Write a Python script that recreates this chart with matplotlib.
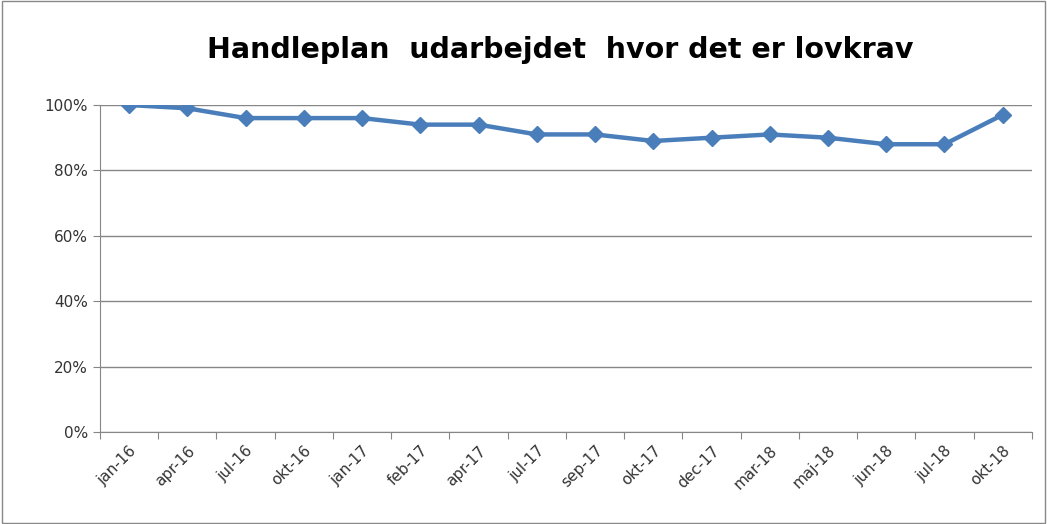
import matplotlib.pyplot as plt
from matplotlib.patches import Rectangle

maaneder = ["jan-16", "apr-16", "jul-16", "okt-16", "jan-17", "feb-17", "apr-17", "jul-17",
            "sep-17", "okt-17", "dec-17", "mar-18", "maj-18", "jun-18", "jul-18", "okt-18"]
andel = [100, 99, 96, 96, 96, 94, 94, 91, 91, 89, 90, 91, 90, 88, 88, 97]

fig = plt.figure(figsize=(10.47, 5.24), dpi=100)
ax = fig.add_axes([0.0955, 0.1756, 0.89, 0.624])

x = range(len(maaneder))
ax.plot(x, andel, color="#4a7ebb", linewidth=3.2, marker="D", markersize=8, zorder=3)

ax.set_xlim(-0.5, len(maaneder) - 0.5)
ax.set_ylim(0, 100)
ax.set_yticks(range(0, 101, 20))
ax.set_yticklabels([f"{v}%" for v in range(0, 101, 20)], fontsize=11, color="#333333")

# tick marks mellem kategorierne, labels i midten
ax.set_xticks([i - 0.5 for i in range(len(maaneder) + 1)])
ax.set_xticklabels([])
ax.set_xticks(list(x), minor=True)
ax.set_xticklabels(maaneder, minor=True, rotation=45, ha="right", rotation_mode="anchor",
                   fontsize=11, color="#333333")
ax.tick_params(axis="x", which="minor", length=0, pad=8)
ax.tick_params(axis="x", which="major", length=5, color="#868686", direction="out")
ax.tick_params(axis="y", length=5, color="#868686", direction="out")

ax.grid(axis="y", color="#868686", linewidth=1)
ax.set_axisbelow(True)
for s in ["top", "right"]:
    ax.spines[s].set_visible(False)
for s in ["left", "bottom"]:
    ax.spines[s].set_color("#868686")

fig.text(0.535, 0.905, "Handleplan  udarbejdet  hvor det er lovkrav", ha="center", va="center",
         fontsize=20.5, fontweight="bold", color="black")

fig.patches.append(Rectangle((0.002, 0.002), 0.996, 0.996, transform=fig.transFigure,
                             fill=False, edgecolor="#888888", linewidth=1))

fig.savefig("out.png", dpi=100)
